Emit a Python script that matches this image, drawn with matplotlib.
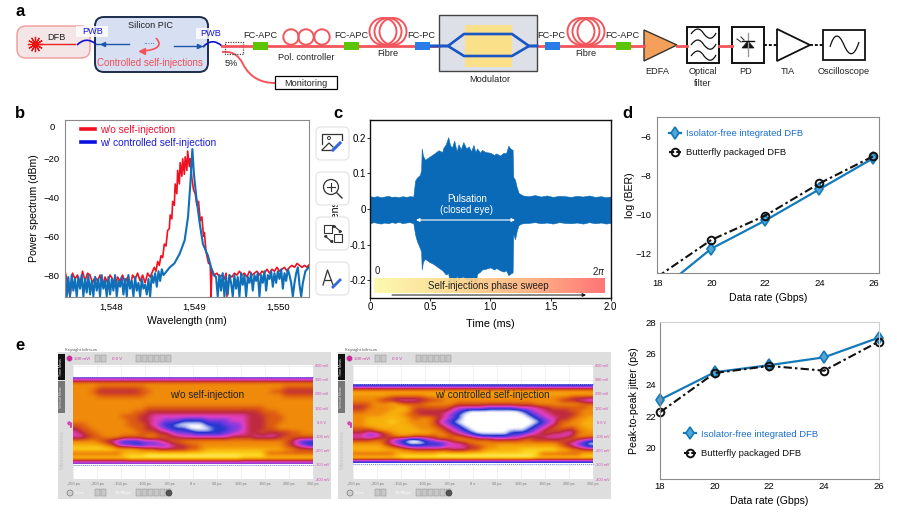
import numpy as np
import matplotlib
matplotlib.use("Agg")
import matplotlib.pyplot as plt
from matplotlib.colors import LinearSegmentedColormap
from matplotlib.lines import Line2D
from matplotlib.patches import FancyBboxPatch, PathPatch, Polygon, Rectangle, Circle
from matplotlib.path import Path

plt.rcParams["font.family"] = ["Liberation Sans", "DejaVu Sans"]
plt.rcParams["font.size"] = 7

W, H = 897, 513

# ====== DATA ======
# panel b, spectrum without self-injection
RED_X = [1547.45, 1547.48, 1547.51, 1547.54, 1547.57, 1547.60, 1547.63, 1547.66, 1547.69, 1547.72,
         1547.75, 1547.78, 1547.81, 1547.84, 1547.87, 1547.90, 1547.93, 1547.96, 1547.99, 1548.02,
         1548.05, 1548.08, 1548.11, 1548.14, 1548.17, 1548.20, 1548.23, 1548.26, 1548.29, 1548.32,
         1548.35, 1548.38, 1548.41, 1548.44, 1548.47, 1548.50, 1548.52, 1548.54, 1548.56, 1548.58,
         1548.60, 1548.62, 1548.64, 1548.66, 1548.68, 1548.70, 1548.71, 1548.73, 1548.74, 1548.76,
         1548.77, 1548.79, 1548.80, 1548.82, 1548.83, 1548.85, 1548.86, 1548.88, 1548.89, 1548.91,
         1548.92, 1548.94, 1548.95, 1548.97, 1548.99, 1549.01, 1549.03, 1549.05, 1549.07, 1549.09,
         1549.11, 1549.12, 1549.14, 1549.16, 1549.17, 1549.19, 1549.20, 1549.21, 1549.24, 1549.27,
         1549.30, 1549.33, 1549.36, 1549.38, 1549.39, 1549.42, 1549.45, 1549.48, 1549.51, 1549.54,
         1549.57, 1549.60, 1549.63, 1549.66, 1549.69, 1549.72, 1549.75, 1549.78, 1549.81, 1549.84,
         1549.87, 1549.90, 1549.93, 1549.96, 1549.99, 1550.02, 1550.05, 1550.08, 1550.11, 1550.14,
         1550.17, 1550.20, 1550.23, 1550.26, 1550.29, 1550.32, 1550.35, 1550.37, 1550.37, 1550.37]
RED_DB = [-78, -84, -91, -79, -82, -80, -85, -78, -83, -79,
          -80, -84, -81, -83, -80, -86, -81, -84, -80, -82,
          -86, -81, -83, -80, -84, -81, -86, -80, -82, -79,
          -83, -80, -84, -79, -81, -78, -76, -78, -73, -75,
          -70, -71, -64, -65, -57, -56, -49, -51, -42, -44,
          -33, -38, -26, -33, -22, -29, -20, -28, -19, -26,
          -16, -24, -20, -30, -36, -38, -44, -42, -52, -50,
          -60, -58, -68, -72, -74, -74, -91, -77, -80, -79,
          -81, -80, -82, -79, -91, -80, -81, -79, -80, -78,
          -80, -79, -81, -78, -80, -79, -78, -80, -78, -79,
          -77, -79, -77, -78, -76, -78, -77, -76, -78, -76,
          -75, -76, -74, -75, -76, -75, -76, -75, -76, -75]

# panel b, spectrum with controlled self-injection
BLUE_X = [1547.45, 1547.47, 1547.49, 1547.51, 1547.53, 1547.55, 1547.57, 1547.59, 1547.61, 1547.63,
          1547.65, 1547.67, 1547.69, 1547.71, 1547.73, 1547.75, 1547.77, 1547.79, 1547.81, 1547.83,
          1547.85, 1547.87, 1547.89, 1547.91, 1547.93, 1547.95, 1547.97, 1547.99, 1548.01, 1548.03,
          1548.05, 1548.07, 1548.09, 1548.11, 1548.13, 1548.15, 1548.17, 1548.19, 1548.21, 1548.23,
          1548.25, 1548.27, 1548.29, 1548.31, 1548.33, 1548.35, 1548.37, 1548.39, 1548.41, 1548.43,
          1548.45, 1548.47, 1548.49, 1548.51, 1548.53, 1548.55, 1548.57, 1548.59, 1548.61, 1548.63,
          1548.65, 1548.705, 1548.76, 1548.824, 1548.884, 1548.924, 1548.952, 1548.976, 1548.995, 1549.024,
          1549.063, 1549.103, 1549.163, 1549.20, 1549.23, 1549.26, 1549.28, 1549.30, 1549.32, 1549.34,
          1549.36, 1549.38, 1549.40, 1549.42, 1549.44, 1549.46, 1549.48, 1549.50, 1549.52, 1549.54,
          1549.56, 1549.58, 1549.60, 1549.62, 1549.64, 1549.66, 1549.68, 1549.70, 1549.72, 1549.74,
          1549.76, 1549.78, 1549.80, 1549.82, 1549.84, 1549.86, 1549.88, 1549.90, 1549.92, 1549.94,
          1549.96, 1549.98, 1550.00, 1550.02, 1550.04, 1550.06, 1550.08, 1550.10, 1550.12, 1550.14,
          1550.16, 1550.18, 1550.20, 1550.22, 1550.24, 1550.26, 1550.28, 1550.30, 1550.33, 1550.37]
BLUE_DB = [-79, -91, -81, -91, -80, -88, -82, -91, -81, -87,
           -80, -91, -82, -89, -80, -90, -83, -91, -81, -88,
           -82, -91, -80, -87, -83, -91, -81, -90, -82, -88,
           -80, -91, -83, -86, -81, -90, -82, -91, -80, -87,
           -83, -91, -81, -88, -84, -91, -82, -87, -85, -90,
           -82, -91, -80, -84, -79, -86, -78, -83, -77, -80,
           -79, -76, -74, -69, -62, -50, -33, -15, -28, -40,
           -53, -64, -70, -76, -80, -81, -91, -80, -88, -79,
           -91, -81, -90, -80, -84, -91, -80, -87, -81, -91,
           -79, -85, -80, -91, -81, -84, -79, -88, -80, -83,
           -79, -91, -80, -84, -78, -88, -80, -82, -78, -86,
           -79, -84, -78, -82, -77, -87, -79, -83, -77, -80,
           -84, -91, -84, -79, -76, -85, -91, -84, -78, -76]

# panel c, pulsation envelope
ENV_T = [0.00, 0.03, 0.06, 0.09, 0.12, 0.15, 0.18, 0.21, 0.24, 0.27,
         0.30, 0.33, 0.36, 0.375, 0.39, 0.415, 0.425, 0.43, 0.44, 0.457,
         0.49, 0.53, 0.57, 0.60, 0.61, 0.63, 0.65, 0.665, 0.68, 0.70,
         0.72, 0.735, 0.755, 0.775, 0.80, 0.82, 0.84, 0.86, 0.875, 0.89,
         0.915, 0.93, 0.96, 1.00, 1.03, 1.05, 1.08, 1.11, 1.13, 1.15,
         1.165, 1.185, 1.19, 1.205, 1.22, 1.235, 1.25, 1.27, 1.32, 1.37,
         1.42, 1.47, 1.52, 1.57, 1.62, 1.67, 1.72, 1.77, 1.82, 1.87,
         1.92, 1.96, 2.00]
ENV_UP = [0.036, 0.034, 0.036, 0.033, 0.035, 0.037, 0.034, 0.035, 0.033, 0.036,
          0.034, 0.036, 0.035, 0.080, 0.088, 0.096, 0.110, 0.170, 0.150, 0.138,
          0.146, 0.155, 0.165, 0.160, 0.172, 0.182, 0.202, 0.180, 0.172, 0.192,
          0.162, 0.182, 0.168, 0.188, 0.170, 0.176, 0.162, 0.180, 0.160, 0.170,
          0.158, 0.166, 0.160, 0.158, 0.152, 0.156, 0.150, 0.158, 0.156, 0.178,
          0.170, 0.166, 0.090, 0.082, 0.060, 0.045, 0.042, 0.038, 0.036, 0.039,
          0.035, 0.038, 0.034, 0.037, 0.036, 0.034, 0.037, 0.035, 0.038, 0.034,
          0.036, 0.033, 0.035]
ENV_LOW = [-0.040, -0.037, -0.039, -0.041, -0.038, -0.040, -0.037, -0.039, -0.036, -0.040,
           -0.038, -0.037, -0.040, -0.072, -0.090, -0.110, -0.120, -0.170, -0.148, -0.140,
           -0.148, -0.155, -0.165, -0.172, -0.176, -0.184, -0.180, -0.215, -0.190, -0.222,
           -0.186, -0.200, -0.192, -0.190, -0.198, -0.196, -0.204, -0.190, -0.212, -0.182,
           -0.176, -0.170, -0.168, -0.164, -0.170, -0.166, -0.172, -0.176, -0.172, -0.186,
           -0.182, -0.178, -0.070, -0.085, -0.060, -0.045, -0.042, -0.040, -0.039, -0.037,
           -0.040, -0.038, -0.041, -0.037, -0.039, -0.040, -0.038, -0.041, -0.037, -0.040,
           -0.038, -0.041, -0.039]

# panels d and the jitter panel below it
RATE = [18, 20, 22, 24, 26]
BER_ISOLATOR = [-14.0, -11.75, -10.3, -8.7, -7.1]
BER_BUTTERFLY = [-13.2, -11.3, -10.05, -8.4, -7.0]
JITTER_ISOLATOR = [23.05, 24.8, 25.25, 25.75, 27.0]
JITTER_BUTTERFLY = [22.25, 24.75, 25.2, 24.9, 26.75]

# panel e, eye density read by eye, one digit per cell (0 empty ... 9 densest)
EYE_OPEN_LOOP = [
    "2222222222 2222222222 2222222222 2222222222",
    "6666666666 6666666666 6666666666 6666666666",
    "6666555555 5566666666 6666666666 6666655555",
    "6665444444 4556666666 6666666666 6665544444",
    "6666555555 5566666666 6666666666 6666655555",
    "6666666666 6666666666 6666666666 6666666666",
    "6666666666 6666666666 6666666666 6666666666",
    "6666666666 6655555555 5555555555 5566666666",
    "6666666666 5544444444 4444444444 4555666666",
    "6666666655 5443333333 3333333334 4455566666",
    "6666666665 5443322211 1122223334 4455566666",
    "5566666665 5543211000 0011122234 4455666666",
    "4556666666 5544321110 0001112234 4455666666",
    "3455666666 6555443222 1111122334 4544445566",
    "3345566655 5566554433 3333334444 3333455555",
    "6666543211 1222345566 6666666666 6666654211",
    "7777765322 1122223445 5666666666 6666654321",
    "8888888777 7655444445 5677777777 7777766555",
    "5555555577 7788888888 8888888888 8855555555",
    "8888888889 9999999999 9999999988 8888888888",
    "2222222222 2222222222 2222222222 2222222222",
]
EYE_CONTROLLED = [
    "1111111111 1111111111 1111111111 1111111111",
    "5555555555 5555555555 5555555555 5555555555",
    "7777777777 7777777777 7777777777 7777777777",
    "6666665555 5566666666 6666666666 6666665555",
    "6666544333 3445566666 6666666666 6666544332",
    "5556667655 5566666555 5555555555 6666666655",
    "4456666776 5555554333 3322222333 3445555556",
    "5566667776 4444443210 0000000012 3344445566",
    "6666677765 5444432100 0000000001 2334444566",
    "6677777776 5665432100 0000000000 1233445667",
    "6677778776 6665321000 0000000000 0123556677",
    "6677777777 6665432100 0000000000 1234566677",
    "5556777777 7666543210 0000000001 2345554667",
    "4433456777 7776654321 0000001112 3454433566",
    "3322345666 5555665543 2111112234 4433334666",
    "4445553210 0123445666 5554444455 4444455432",
    "6666643210 0011123345 6666666666 6666543210",
    "7777765432 2222233334 4566777777 7777654321",
    "7777777766 5555554445 5677777788 8888776655",
    "5555555777 7777888888 8888888888 8555555577",
    "8888888899 9999999999 9999999999 8888888888",
    "1111111111 1111111111 1111111111 1111111111",
]
SCOPE_TIME_LABELS = ["-250 ps", "-200 ps", "-150 ps", "-100 ps", "-50 ps", "0 s",
                     "50 ps", "100 ps", "150 ps", "200 ps", "250 ps"]
SCOPE_VOLT_LABELS = ["400 mV", "300 mV", "200 mV", "100 mV", "0.0 V",
                     "-100 mV", "-200 mV", "-300 mV", "-400 mV"]

# ====== COLOURS ======
RED = "#f4555c"
C_ISO = "#1479b8"
GREY = "#8a8a8a"
GREEN = "#5cc400"
FC_BLUE = "#2a7de8"
eye_cmap = LinearSegmentedColormap.from_list(
    "eye", ["#ffffff", "#2036cf", "#7e3ae0", "#e23fc0", "#bf2a3e",
            "#dc5a12", "#f08a0a", "#f8b00c", "#fcd822", "#fff1a0"])

fig = plt.figure(figsize=(W / 100, H / 100), dpi=100)


def axes_px(left, right, top, bottom):
    return fig.add_axes([left / W, 1 - bottom / H, (right - left) / W, (bottom - top) / H])


# overlay in pixel coordinates for the schematic and screenshots
ov = fig.add_axes([0, 0, 1, 1], zorder=5)
ov.set_xlim(0, W)
ov.set_ylim(H, 0)
ov.axis("off")
ov.patch.set_alpha(0)


def ax_center_x(ax):
    p = ax.get_position()
    return (p.x0 + p.x1) / 2 * W


def ax_center_y(ax):
    p = ax.get_position()
    return (1 - (p.y0 + p.y1) / 2) * H


def label_px(ax, xlabel_y, ylabel_x):
    ax.xaxis.set_label_coords(ax_center_x(ax), xlabel_y, transform=ov.transData)
    ax.yaxis.set_label_coords(ylabel_x, ax_center_y(ax), transform=ov.transData)


def style_axes(ax, color, lw=0.8):
    for s in ax.spines.values():
        s.set_color(color)
        s.set_linewidth(lw)
    ax.tick_params(labelsize=6.8, length=2, width=0.6, color=color, pad=2)


def txt(x, y, s, size=6.6, color="#222222", **kw):
    kw.setdefault("ha", "center")
    kw.setdefault("va", "center")
    ov.text(x, y, s, fontsize=size, color=color, **kw)


def curve(points, codes, **kw):
    kw.setdefault("fill", False)
    ov.add_patch(PathPatch(Path(points, codes), **kw))


# ====== PANEL A ======
C3 = [Path.MOVETO, Path.CURVE3, Path.CURVE3]
C4 = [Path.MOVETO, Path.CURVE4, Path.CURVE4, Path.CURVE4]

ov.add_patch(FancyBboxPatch((17, 26), 73, 32, boxstyle="round,pad=0,rounding_size=9",
                            fc="#f4e6e6", ec="#f29a9a", lw=1))
ov.add_patch(FancyBboxPatch((95, 17), 113, 55, boxstyle="round,pad=0,rounding_size=9",
                            fc="#d6e0f2", ec="#1d2c4c", lw=1.4))
ov.plot([35, 75], [44, 44], color="#ee2222", lw=1)
ov.plot([35], [44], marker=(12, 2, 0), ms=11, mew=0.9, color="#ee1111")
txt(56, 38, "DFB")
txt(150, 25, "Silicon PIC")
ov.add_patch(Rectangle((76, 26), 32, 11, fc="white", ec="none", alpha=0.8))
ov.add_patch(Rectangle((196, 28), 32, 11, fc="white", ec="none", alpha=0.8))
txt(93, 32, "PWB", color="#1515e0")
txt(211, 34, "PWB", color="#1515e0")
curve([(77, 45), (86, 36), (96, 44)], C3, ec="#1010d0", lw=1.2)
curve([(203, 47), (212, 37), (222, 46)], C3, ec="#1010d0", lw=1.2)
ov.plot([96, 129], [44, 44], color="#1d55a8", lw=1)
ov.plot([174, 204], [46, 46], color="#1d55a8", lw=1)
ov.plot([103], [44], marker="<", ms=3, color="#1d55a8")
ov.plot([199], [46], marker=">", ms=3, color="#1d55a8")
txt(149, 42, ".....", size=6, color="#1d55a8")
curve([(156, 38), (162, 44), (160, 50), (142, 51)], C4, ec=RED, lw=1.2)
ov.plot([142], [51], marker="<", ms=4, color=RED)
txt(150, 63, "Controlled self-injections", size=7, color="#f0505a")

# main fibre run, connectors, coils
ov.plot([222, 439], [46, 46], color=RED, lw=2, zorder=2)
ov.plot([537, 644], [46, 46], color=RED, lw=2, zorder=2)
ov.plot([677, 687], [46, 46], color=RED, lw=2)
ov.plot([719, 732], [46, 46], color=RED, lw=2)
curve([(222, 52), (236, 50), (243, 64), (250, 78), (262, 83), (275, 83)],
      [Path.MOVETO, Path.CURVE3, Path.CURVE3, Path.CURVE4, Path.CURVE4, Path.CURVE4], ec=RED, lw=1.4)
ov.add_patch(Rectangle((225, 42), 18, 12, fill=False, ec="#444444", lw=0.9, ls=(0, (1, 1))))
txt(231, 63, "5%")
ov.add_patch(Rectangle((275, 76), 62, 13, fc="white", ec="black", lw=0.9))
txt(306, 83, "Monitoring")

for cx in (291, 306, 322):
    ov.add_patch(Circle((cx, 37), 7.7, fill=False, ec=RED, lw=1.4, zorder=3))
for cx0 in (384, 582):
    for dx in (-1, 4, 9):
        ov.add_patch(Circle((cx0 + dx, 31.5), 13.5, fill=False, ec=RED, lw=1.4, zorder=3))
for x0, col in ((253, GREEN), (344, GREEN), (415, FC_BLUE), (545, FC_BLUE), (616, GREEN)):
    ov.add_patch(Rectangle((x0, 42), 15, 8, fc=col, ec="none", zorder=4))
for x, s in ((260, "FC-APC"), (351, "FC-APC"), (421, "FC-PC"), (551, "FC-PC"), (622, "FC-APC")):
    txt(x, 35, s, zorder=6)
txt(306, 57, "Pol. controller")
txt(388, 54, "Fibre")
txt(586, 54, "Fibre")

# modulator
ov.add_patch(Rectangle((439, 15), 98, 56, fc="#dde0e6", ec="#444444", lw=1))
ov.add_patch(Rectangle((465, 25), 47, 42, fc="#fbe08a", ec="none"))
ov.plot([429, 448, 464, 512, 529, 537], [46, 46, 34, 34, 46, 46], color="#1a56c4", lw=1.9)
ov.plot([429, 448, 464, 512, 529, 537], [46, 46, 56, 56, 46, 46], color="#1a56c4", lw=1.9)
txt(490, 79, "Modulator")

# EDFA, filter, PD, TIA, scope
ov.add_patch(Polygon([(644, 30), (644, 61), (677, 45)], fc="#f5a05a", ec="#333333", lw=1))
txt(657, 72, "EDFA")
ov.add_patch(Rectangle((687, 27), 32, 36, fc="white", ec="#111111", lw=1.4))
for yy in (34, 45, 56):
    curve([(691, yy), (698, yy - 10), (704, yy), (711, yy + 9), (716, yy - 1)],
          [Path.MOVETO, Path.CURVE3, Path.CURVE3, Path.CURVE3, Path.CURVE3], ec="#111111", lw=0.9)
txt(703, 72, "Optical")
txt(703, 83, "filter")
ov.add_patch(Rectangle((732, 27), 32, 36, fc="white", ec="#111111", lw=1.4))
ov.plot([748, 748], [33, 56], color="#999999", lw=1)
ov.add_patch(Polygon([(742, 48), (754, 48), (748, 41)], fc="#111111", ec="#111111", lw=0.5))
ov.plot([742, 754], [41, 41], color="#111111", lw=1)
ov.plot([737, 741], [39, 42], color="#333333", lw=0.8)
ov.plot([741, 744], [37, 40], color="#333333", lw=0.8)
txt(746, 72, "PD")
ov.plot([764, 777], [45, 45], color="#111111", lw=1.4, ls=(0, (1.5, 1)))
ov.add_patch(Polygon([(777, 29), (777, 61), (810, 45)], fc="white", ec="#111111", lw=1.3))
txt(788, 72, "TIA")
ov.plot([810, 823], [45, 45], color="#111111", lw=1.4, ls=(0, (1.5, 1)))
ov.add_patch(Rectangle((823, 30), 42, 30, fc="white", ec="#111111", lw=1.3))
curve([(830, 47), (836, 26), (844, 45), (852, 64), (859, 42)],
      [Path.MOVETO, Path.CURVE3, Path.CURVE3, Path.CURVE3, Path.CURVE3], ec="#111111", lw=0.9)
txt(844, 72, "Oscilloscope")

# ====== PANEL B ======
ax_b = axes_px(65, 308.7, 120, 297)
ax_b.plot(RED_X, RED_DB, color="#f01020", lw=1.2)
ax_b.plot(BLUE_X, BLUE_DB, color="#0f6fb8", lw=1.5)
ax_b.set_xlim(1547.45, 1550.37)
ax_b.set_ylim(-91.3, 0)
ax_b.set_xticks([1548, 1549, 1550], ["1,548", "1,549", "1,550"])
ax_b.set_yticks([-20, -40, -60, -80], ["\u221220", "\u221240", "\u221260", "\u221280"])
style_axes(ax_b, GREY)
ax_b.tick_params(length=0, pad=4)
ax_b.text(-0.04, 0.96, "0", transform=ax_b.transAxes, ha="right", va="center", fontsize=6.8)
ax_b.set_xlabel("Wavelength (nm)", fontsize=7.6)
ax_b.set_ylabel("Power spectrum (dBm)", fontsize=7.6)
label_px(ax_b, 316, 39)
ax_b.legend(handles=[Line2D([], [], color="#f01020", lw=2.6, label="w/o self-injection"),
                     Line2D([], [], color="#0a10e0", lw=2.6, label="w/ controlled self-injection")],
            labelcolor=["#f01030", "#1a1ae0"], frameon=False, fontsize=7.3, loc="upper left",
            bbox_to_anchor=(0.035, 1.012), borderpad=0.2, handlelength=1.4, handletextpad=0.5,
            labelspacing=0.3)

# ====== PANEL C ======
ax_c = axes_px(370, 610.7, 120, 298)
ax_c.fill_between(ENV_T, ENV_LOW, ENV_UP, color="#0a6ab8", lw=0.4)
ax_c.set_xlim(0, 2)
ax_c.set_ylim(-0.25, 0.25)
ax_c.set_xticks([0, 0.5, 1, 1.5, 2], ["0", "0.5", "1.0", "1.5", "2.0"])
ax_c.set_yticks([-0.2, -0.1, 0, 0.1, 0.2], ["-0.2", "-0.1", "0", "0.1", "0.2"])
style_axes(ax_c, "#111111", 1)
ax_c.tick_params(labelsize=7, pad=1)
ax_c.set_xlabel("Time (ms)", fontsize=7.8)
ax_c.set_ylabel("Intensity", fontsize=7.6)
label_px(ax_c, 319, 340)

ov.imshow(np.linspace(0, 1, 64).reshape(1, -1), extent=(374.3, 605, 292.7, 278), aspect="auto",
          cmap=LinearSegmentedColormap.from_list("sweep", ["#fdf8a8", "#fbd98c", "#ffb07c", "#ff6a6a"]),
          alpha=0.92, zorder=2)
ov.set_xlim(0, W)
ov.set_ylim(H, 0)
txt(488, 286, "Self-injections phase sweep", size=7, color="#222222", zorder=6)
txt(377, 271, "0", size=7)
txt(599, 271, r"2$\pi$", size=7)
ov.annotate("", xy=(586, 295), xytext=(392, 295),
            arrowprops=dict(arrowstyle="-|>", color="#111111", lw=0.7, mutation_scale=5, shrinkA=0, shrinkB=0))
txt(467, 199, "Pulsation", size=7, color="white")
txt(467, 210, "(closed eye)", size=7, color="white")
ov.annotate("", xy=(515, 220), xytext=(416, 220),
            arrowprops=dict(arrowstyle="<|-|>", color="white", lw=0.8, mutation_scale=5, shrinkA=0, shrinkB=0))

# tool buttons that sit over the panel in the source page
for top in (127, 172, 217, 262):
    ov.add_patch(FancyBboxPatch((316, top), 33, 33, boxstyle="round,pad=0,rounding_size=5",
                                fc="white", ec="#e2e2e2", lw=0.8, zorder=7))
DK = "#333333"
PEN = "#3568d8"
ov.plot([322, 322, 342, 342], [144, 134, 134, 140], color=DK, lw=0.9, zorder=8)
ov.plot([322, 331], [150, 150], color=DK, lw=0.9, zorder=8)
ov.plot([322, 329, 333], [150, 143, 147], color=DK, lw=0.9, zorder=8)
ov.add_patch(Circle((329, 138), 1.5, fill=False, ec=DK, lw=0.7, zorder=8))
ov.plot([333, 340], [150, 143], color=PEN, lw=2.2, zorder=8)
ov.add_patch(Circle((331, 187), 7.5, fill=False, ec=DK, lw=0.9, zorder=8))
ov.plot([336.5, 342], [192.5, 198], color=DK, lw=1, zorder=8)
ov.plot([327, 335], [187, 187], color=DK, lw=0.8, zorder=8)
ov.plot([331, 331], [183, 191], color=DK, lw=0.8, zorder=8)
ov.add_patch(Rectangle((324, 225), 7.5, 7.5, fill=False, ec=DK, lw=0.8, zorder=8))
ov.add_patch(Rectangle((334, 234), 7.5, 7.5, fill=False, ec=DK, lw=0.8, zorder=8))
ov.plot([334, 340], [226, 231], color=DK, lw=0.8, marker=">", ms=1.5, zorder=8)
ov.plot([331, 325], [241, 236], color=DK, lw=0.8, marker="<", ms=1.5, zorder=8)
ov.plot([323, 327.5, 333], [285, 270, 285], color=DK, lw=0.9, zorder=8)
ov.plot([325, 331], [280, 280], color=DK, lw=0.9, zorder=8)
ov.plot([333, 340], [287, 280], color=PEN, lw=2, zorder=8)

# ====== PANEL D ======
ISO_STYLE = dict(color=C_ISO, lw=1.6, marker="d", ms=6, mfc="#4fa6d8", mec=C_ISO, mew=1.2)
BUT_STYLE = dict(color="#111111", lw=1.5, marker="o", ms=5.5, mfc="none", mec="#111111", mew=1.4)

ax_d = axes_px(657.3, 878.7, 117.3, 273)
ax_d.plot(RATE, BER_ISOLATOR, **ISO_STYLE)
ax_d.plot(RATE, BER_BUTTERFLY, ls=(0, (4, 1.5, 1.2, 1.5)), **BUT_STYLE)
ax_d.set_xlim(18, 26.2)
ax_d.set_ylim(-13, -5)
ax_d.set_xticks(RATE)
ax_d.set_yticks([-6, -8, -10, -12], ["\u22126", "\u22128", "\u221210", "\u221212"])
style_axes(ax_d, GREY)
ax_d.tick_params(length=0, pad=4)
ax_d.set_xlabel("Data rate (Gbps)", fontsize=7.6)
ax_d.set_ylabel("log (BER)", fontsize=7.6)
label_px(ax_d, 293, 635)


def rate_legend(ax, anchor):
    h = [Line2D([], [], label="Isolator-free integrated DFB", **ISO_STYLE),
         Line2D([], [], ls=(0, (2.5, 1)), label="Butterfly packaged DFB", **BUT_STYLE)]
    ax.legend(handles=h, labelcolor=["#1a6fd0", "#111111"], frameon=False, fontsize=6.8, loc="upper left",
              bbox_to_anchor=anchor, borderpad=0, handlelength=1.35, handletextpad=0.45, labelspacing=1.1)


rate_legend(ax_d, (0.03, 0.955))

# ====== JITTER PANEL ======
ax_j = axes_px(660, 878.7, 322, 479)
ax_j.plot(RATE, JITTER_ISOLATOR, clip_on=False, **ISO_STYLE)
ax_j.plot(RATE, JITTER_BUTTERFLY, ls=(0, (4, 1.5, 1.2, 1.5)), clip_on=False, **BUT_STYLE)
ax_j.set_xlim(18, 26)
ax_j.set_ylim(18, 28)
ax_j.set_xticks(RATE)
ax_j.set_yticks([20, 22, 24, 26, 28])
style_axes(ax_j, GREY)
ax_j.spines["top"].set_color("#d0d0d0")
ax_j.spines["right"].set_color("#d0d0d0")
ax_j.tick_params(length=0, pad=2.5)
ax_j.set_xlabel("Data rate (Gbps)", fontsize=7.6)
ax_j.set_ylabel("Peak-to-peak jitter (ps)", fontsize=7.6)
label_px(ax_j, 496, 639)
rate_legend(ax_j, (0.086, 0.345))


# ====== PANEL E ======
def eye_matrix(rows):
    return np.array([[int(c) for c in r.replace(" ", "")] for r in rows], dtype=float)


def draw_scope(x0, rows, heat_top, heat_bot, label, label_x):
    plot_l, plot_r = x0 + 15, x0 + 255
    ov.add_patch(Rectangle((x0, 352), 273, 147, fc="#dedede", ec="none", zorder=1))
    ov.add_patch(Rectangle((plot_l, 365), 240, 114, fc="white", ec="none", zorder=1))
    ov.add_patch(Rectangle((x0, 354), 7, 26, fc="#111111", ec="none", zorder=1))
    ov.add_patch(Rectangle((x0, 381), 7, 32, fc="#777777", ec="none", zorder=1))
    txt(x0 + 3.5, 367, "Time Meas", size=2.6, color="white", rotation=90, zorder=2)
    txt(x0 + 3.5, 397, "Vertical Meas", size=2.6, color="#dddddd", rotation=90, zorder=2)
    txt(x0 + 3.5, 450, "Measurements", size=4.2, color="#c4c4c4", rotation=90, zorder=2)
    txt(x0 + 23, 350, "Keysight Infiniium", size=3, color="#555555", zorder=2)
    # top and bottom control bars
    ov.add_patch(Circle((x0 + 11.5, 358.5), 2.8, fc="#d81f9f", ec="#999999", lw=0.3, zorder=2))
    txt(x0 + 24, 358.5, "100 mV/", size=3.2, color="#cf3fa8", zorder=2)
    txt(x0 + 59, 358.5, "0.0 V", size=3.2, color="#cf3fa8", zorder=2)
    for bx in (37, 43, 78, 84, 90, 96, 102, 108):
        ov.add_patch(Rectangle((x0 + bx, 355), 5, 7, fc="#c8c8c8", ec="#888888", lw=0.3, zorder=2))
    for bx in (37, 43, 78, 84, 90, 96, 102, 108):
        ov.add_patch(Rectangle((x0 + bx, 489), 5, 7, fc="#c8c8c8", ec="#888888", lw=0.3, zorder=2))
    ov.add_patch(Circle((x0 + 12, 493), 3, fc="#cfcfcf", ec="#666666", lw=0.4, zorder=2))
    ov.add_patch(Circle((x0 + 111, 493), 3, fc="#555555", ec="#333333", lw=0.4, zorder=2))
    txt(x0 + 21, 493, "5 ps/", size=3, color="#ffffff", zorder=2)
    txt(x0 + 65, 493, "10.00 ps", size=3, color="#ffffff", zorder=2)
    # grid and tick text
    for i, s in enumerate(SCOPE_TIME_LABELS):
        xx = plot_l + 24 * i
        ov.plot([xx, xx], [365, 479], color="#e6e6e6", lw=0.4, zorder=1.5)
        txt(xx, 484, s, size=2.8, color="#777777", zorder=2)
    for i, s in enumerate(SCOPE_VOLT_LABELS):
        yy = 366 + 14.2 * i
        ov.plot([plot_l, plot_r], [yy, yy], color="#e6e6e6", lw=0.4, zorder=1.5)
        txt(plot_r + 9, yy, s, size=2.8, color="#d24bb0", zorder=2)
    # eye density
    ov.imshow(eye_matrix(rows), extent=(plot_l, plot_r, heat_bot, heat_top), aspect="auto", cmap=eye_cmap,
              vmin=0, vmax=9, interpolation="bicubic", zorder=3)
    ov.plot([plot_l, plot_r], [heat_top - 0.8, heat_top - 0.8], color="#6f86dc", lw=0.7, ls=(0, (1, 1)), zorder=3)
    ov.plot([plot_l, plot_r], [heat_bot + 0.8, heat_bot + 0.8], color="#6f86dc", lw=0.7, ls=(0, (1, 1)), zorder=3)
    ov.plot([plot_l - 4], [424], marker="$\u21b0$", ms=4, color="#d24bb0", zorder=3)
    txt(label_x, 394.5, label, size=7.2, color="#222222", zorder=6)
    ov.set_xlim(0, W)
    ov.set_ylim(H, 0)


draw_scope(58, EYE_OPEN_LOOP, 378, 464.5, "w/o self-injection", 207)
draw_scope(338, EYE_CONTROLLED, 385, 463.5, "w/ controlled self-injection", 492)

# ====== PANEL LETTERS ======
for x, y, s in ((20, 11, "a"), (20, 113, "b"), (338, 113, "c"), (627, 113, "d"), (20, 345, "e")):
    txt(x, y, s, size=12, color="black", fontweight="bold")

fig.savefig("out.png", dpi=100)
